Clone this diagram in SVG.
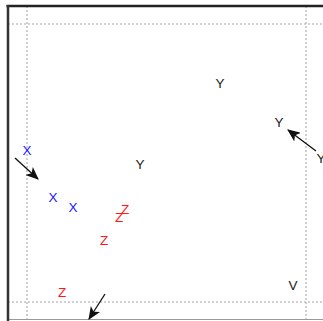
<svg xmlns="http://www.w3.org/2000/svg" width="323" height="321" viewBox="0 0 323 321">
<style>
text{font-family:"Liberation Sans",Arial,sans-serif;font-size:13.5px;text-anchor:middle;dominant-baseline:central}
.k{fill:#222}.b{fill:#1a1aff}.r{fill:#ff1a1a}
.grid{stroke:#c4c4c4;stroke-width:1.6;stroke-dasharray:2 2;fill:none}
.conn{stroke:#111;stroke-width:1.3;fill:none}
</style>
<defs>
<marker id="ah" viewBox="0 0 12 10" refX="11" refY="5" markerWidth="13" markerHeight="11" markerUnits="userSpaceOnUse" orient="auto">
<path d="M0,0 L12,5 L0,10 L3,5 Z" fill="#111"/>
</marker>
</defs>
<rect width="323" height="321" fill="#fff"/>
<g id="grid">
<line class="grid" x1="8" y1="24" x2="323" y2="24"/>
<line class="grid" x1="8" y1="302" x2="323" y2="302"/>
<line class="grid" x1="27" y1="6" x2="27" y2="321"/>
<line class="grid" x1="306" y1="6" x2="306" y2="321"/>
</g>
<g id="frame">
<line x1="8" y1="319.5" x2="323" y2="319.5" stroke="#999" stroke-width="1"/>
<line x1="6.5" y1="6" x2="323" y2="6" stroke="#222" stroke-width="2.5"/>
<line x1="8" y1="5" x2="8" y2="321" stroke="#333" stroke-width="2.5"/>
</g>
<g id="connectors">
<line class="conn" x1="15" y1="158" x2="38" y2="179" marker-end="url(#ah)"/>
<line class="conn" x1="316" y1="151" x2="288" y2="130" marker-end="url(#ah)"/>
<line class="conn" x1="105" y1="294" x2="89" y2="319" marker-end="url(#ah)"/>
</g>
<g id="x1"><text class="b" x="27" y="150">X</text></g>
<g id="x2"><text class="b" x="53" y="197">X</text></g>
<g id="x3"><text class="b" x="73" y="207">X</text></g>
<g id="y1"><text class="k" x="220" y="83">Y</text></g>
<g id="y2"><text class="k" x="140" y="164">Y</text></g>
<g id="y3"><text class="k" x="279" y="122">Y</text></g>
<g id="y4"><text class="k" x="321" y="158">Y</text></g>
<g id="z1"><text class="r" x="125" y="209">Z</text></g>
<g id="z2"><text class="r" x="119" y="217">Z</text></g>
<g id="z3"><text class="r" x="104" y="240">Z</text></g>
<g id="z4"><text class="r" x="62" y="292">Z</text></g>
<g id="v1"><text class="k" x="293" y="285">V</text></g>
</svg>
